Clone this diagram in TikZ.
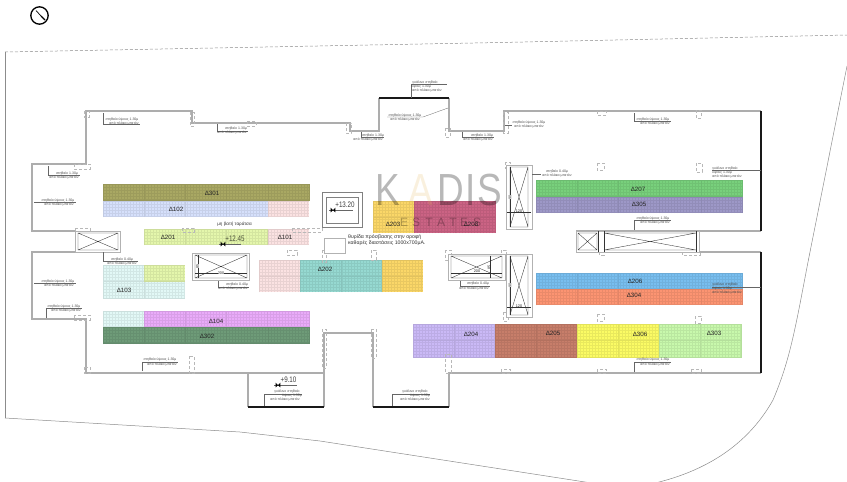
\documentclass[tikz,border=0pt]{standalone}
\usepackage{fontspec}
\setmainfont{Liberation Sans}
\usepackage{tikz}
\definecolor{cOlive}{HTML}{A9A863}
\definecolor{cBlue}{HTML}{D6E0FB}
\definecolor{cPink}{HTML}{FBE2E2}
\definecolor{cLime}{HTML}{E4F6AC}
\definecolor{cCyan}{HTML}{E2F8F6}
\definecolor{cMagenta}{HTML}{E9ABF9}
\definecolor{cForest}{HTML}{6E9B78}
\definecolor{cTeal}{HTML}{96D9D1}
\definecolor{cAmber}{HTML}{FBD768}
\definecolor{cRose}{HTML}{CB6384}
\definecolor{cGreen}{HTML}{78D07C}
\definecolor{cViolet}{HTML}{9D98C7}
\definecolor{cSky}{HTML}{78BEEF}
\definecolor{cCoral}{HTML}{FC9472}
\definecolor{cLilac}{HTML}{CAB9F6}
\definecolor{cBrick}{HTML}{C77E6A}
\definecolor{cLemon}{HTML}{FBFB64}
\definecolor{cMint}{HTML}{C8F8AC}
\tikzstyle{wall}=[draw=black!50, line width=.5pt, double=black!32, double distance=1.8pt, line join=miter]
\tikzstyle{glass}=[draw=black!90, line width=1.3pt]
\tikzstyle{plot}=[draw=black!45, line width=.5pt]
\tikzstyle{leader}=[draw=black!60, line width=.3pt]
\tikzstyle{column}=[draw=black!28, line width=.3pt, densely dashed]
\tikzstyle{frame}=[draw=black!30, line width=1pt, fill=white]
\tikzstyle{thin}=[draw=black!80, line width=.35pt]
\tikzstyle{lab}=[font=\fontsize{3.5}{4}\selectfont, text=black!70, inner sep=0pt]
\tikzstyle{dim}=[font=\fontsize{3.8}{4}\selectfont, text=black!85, inner sep=0pt]
\tikzstyle{room}=[font=\fontsize{6.2}{7}\selectfont, text=black!85, inner sep=0pt]
\tikzstyle{note}=[font=\fontsize{5.2}{6}\selectfont, text=black!80, inner sep=0pt]
\tikzstyle{level}=[font=\fontsize{8}{9}\selectfont, text=black!75, inner sep=0pt, xscale=.78]
\tikzstyle{wmark}=[font=\fontsize{45}{50}\selectfont, text=black, opacity=.28, inner sep=0pt, xscale=.82]
\newcommand{\ypsos}{στηθαίο ύψους 1.30μ}
\newcommand{\mikro}{στηθαίο 1.30μ}
\newcommand{\xamilo}{στηθαίο 0.40μ}
\newcommand{\plaka}{από πλάκα μπετόν}
\newcommand{\levelmark}[3]{
	\draw[leader] (#2-4,#3) -- ++(#1,0);
	\fill[black] (#2,#3) ++(-2.3,-2.3) -- ++(4.6,4.6) -- ++(0,-4.6) -- ++(-4.6,4.6) -- cycle;
}
\newcommand{\glasslab}[4]{
	\node at (#1,#4-4) [lab] {γυάλινο στηθαίο};
	\node at (#2,#4) [lab] {ύψους 1.30μ};
	\node at (#3,#4+4) [lab] {\plaka};
}

\begin{document}
\begin{tikzpicture}[x=1pt, y=-1pt]
	\useasboundingbox (0,0) rectangle (847,482);
	% north
	\draw[black, line width=1.3pt] (39.5,15.5) circle (8.7);
	\draw[black, line width=.7pt] (36,10.5) -- (41,16);
	\draw[black, line width=1.2pt] (41,16) -- (45,20);
	% plot
	\draw[plot, densely dashed] (5,52) -- (500,42.5) -- (847,35);
	\draw[plot] (5,52) -- (5,418);
	\draw[plot] (5,418) -- (240,432) -- (320,441) -- (598,484);
	\draw[plot] (847,66) -- (808,262) .. controls (795,330) and (790,360) .. (773,400) .. controls (755,432) and (720,470) .. (646,485);
	% panels
	\foreach \xa/\ya/\xb/\yb/\col in {
		103/184/309/201/cOlive, 103/201/268/217/cBlue, 268/201/309/217/cPink,
		144/229/268/245/cLime, 268/229/309/245/cPink,
		103/265/185/298/cCyan, 144/265/185/282/cLime,
		103/311/144/327/cCyan, 144/311/309/327/cMagenta, 103/327/309/344/cForest,
		259/260/300/292/cPink, 300/260/382/292/cTeal, 382/260/423/292/cAmber,
		373/201/414/233/cAmber, 414/201/496/233/cRose,
		536/180/742/197/cGreen, 536/197/742/213/cViolet,
		536/273/742/289/cSky, 536/289/742/305/cCoral,
		413/324/495/357/cLilac, 495/324/577/357/cBrick, 577/324/659/357/cLemon, 659/324/742/357/cMint} {
		\fill[\col] (\xa,\ya) rectangle (\xb,\yb);
		\pgfmathsetmacro{\wd}{\xb-\xa}
		\pgfmathsetmacro{\ht}{\yb-\ya}
		\begin{scope}[shift={(\xa,\ya)}]
			\draw[\col!93!black, line width=.1pt, step=3pt] (0,0) grid (\wd,\ht);
			\draw[\col!90!black, line width=.5pt, xstep=41.2pt, ystep=16.4pt] (0,0) grid (\wd,\ht);
		\end{scope}
	}
	% room names
	\foreach \nam/\xa/\ya in {
		301/212/193.5, 102/176/209.5, 201/168/237.5, 101/285/237.5, 103/124/290,
		104/216/321.5, 302/207/336.5, 202/325/269, 203/393/224, 208/471/224,
		207/638/189.5, 305/639/204.5, 206/635/281, 304/634/295.5,
		204/471/334, 205/553/333.5, 306/640/334, 303/714/333.5} {
		\node at (\xa,\ya) [room] (r\nam) {Δ\nam};
	}
	% walls
	\draw[wall] (75,231) -- (32,231) -- (32,164) -- (86,164) -- (86,111) -- (192,111) -- (192,123) -- (350,123) -- (350,131) -- (379,131) -- (379,98) (449,98) -- (449,131) -- (504,131) -- (504,111) -- (761,111);
	\draw[wall] (761,231) -- (576,231);
	\draw[wall] (700,252) -- (761,252);
	\draw[wall] (761,373) -- (449,373) -- (449,407);
	\draw[wall] (373,407) -- (373,333) -- (324,333) -- (324,373) -- (86,373) -- (86,319) -- (32,319) -- (32,252) -- (75,252);
	\draw[wall] (248,373) -- (248,407) (324,373) -- (324,407);
	\draw[glass] (379,98) -- (449,98);
	\draw[glass] (761,111) -- (761,231);
	\draw[glass] (761,252) -- (761,373);
	\draw[glass] (248,407) -- (324,407);
	\draw[glass] (373,407) -- (449,407);
	% columns
	\foreach \xa/\ya/\xb/\yb in {
		84/111/89/117, 190/112/194/126, 247/121/256/126, 74/164/90/169,
		75/228/90/232, 182/228/194/232, 292/228/322/232, 287/250/297/255,
		74/315/90/320, 84/367/90/373, 189/356/194/373, 322/250/326/262,
		371/250/376/260, 322/329/326/368, 371/329/376/358, 445/354/451/373,
		445/250/451/260, 501/250/506/260, 503/312/508/321, 501/369/510/373,
		346/123/351/133, 445/128/450/137, 503/112/508/133, 505/162/510/168,
		597/111/606/115, 696/110/701/118, 597/163/604/170, 696/163/702/172,
		599/252/604/255, 682/252/700/255, 597/314/604/321, 695/316/701/323,
		597/369/606/373, 691/369/701/373} {
		\draw[column] (\xa,\ya) rectangle (\xb,\yb);
	}
	% shafts
	\draw[frame] (75,231) rectangle (120,252);
	\draw[thin] (78,233) -- (118,250) (118,233) -- (78,250) (78,233) rectangle (118,250);
	\draw[frame] (192,253) rectangle (249,280);
	\draw[thin] (195,255) -- (247,278) (247,255) -- (195,278) (195,255) rectangle (247,278);
	\draw[thin] (195,273) -- (247,273) (198,255) -- (198,278);
	\node at (197.5,266) [dim, rotate=90, fill=white] (d85a) {85};
	\node at (221,273) [dim, fill=white] (d200a) {200};
	\draw[frame] (448,254) rectangle (505,280);
	\draw[thin] (451,256) -- (502,278) (502,256) -- (451,278) (451,256) rectangle (502,278);
	\draw[thin] (451,273) -- (502,273) (490,256) -- (490,278);
	\node at (489,267) [dim, rotate=90, fill=white] (d85b) {85};
	\node at (477,271.5) [dim, fill=white] (d200b) {200};
	\draw[frame] (506,165) rectangle (532,229);
	\draw[thin] (510,167) -- (528,227) (528,167) -- (510,227) (510,167) rectangle (528,227);
	\draw[thin] (507,212) -- (531,212) (510,167) -- (510,227);
	\node at (510,197) [dim, rotate=90, fill=white] (d90a) {90};
	\node at (519,211) [dim, fill=white] (d120a) {120};
	\draw[frame] (506,254) rectangle (532,317);
	\draw[thin] (510,256) -- (528,315) (528,256) -- (510,315) (510,256) rectangle (528,315);
	\draw[thin] (507,307) -- (531,307) (510,256) -- (510,315);
	\node at (510,285) [dim, rotate=90, fill=white] (d90b) {90};
	\node at (519,306) [dim, fill=white] (d120b) {120};
	\draw[frame] (576,231) rectangle (699,252);
	\draw[thin] (578,233) -- (597,250) (597,233) -- (578,250) (578,233) rectangle (597,250);
	\draw[thin] (598,231) -- (598,252) (604,231) -- (604,252) (696,231) -- (696,252);
	\draw[thin] (604,233) -- (696,250) (604,250) -- (696,233) (604,233) -- (696,233) (604,250) -- (696,250);
	% hatches
	\draw[black!50, line width=.6pt] (322,192) rectangle (362,227);
	\draw[black!50, line width=.6pt] (326,197) rectangle (358,223);
	\draw[frame, line width=.9pt] (324,238) rectangle (345,253);
	% levels
	\levelmark{24}{333}{210}
	\node at (345,205) [level] (top) {+13.20};
	\levelmark{22}{223}{244}
	\node at (235,239) [level, text=black!45!cLime!60!black] (terrace) {+12.45};
	\levelmark{23}{278}{385}
	\node at (288.5,380) [level] (low) {+9.10};
	% notes
	\node at (234.5,224.5) [note, font=\fontsize{4.6}{5}\selectfont] (roof) {μη βατή ταράτσα};
	\node at (348,237) [note, anchor=west] (hatcha) {θυρίδα πρόσβασης στην οροφή};
	\node at (348,243) [note, anchor=west] (hatchb) {καθαρές διαστάσεις 1000x700μΑ.};
	% parapets
	\foreach \xa/\ya/\xb/\yb/\xc/\yc/\xd/\yd/\txt in {
		103.5/113/103.5/124/122/120/124/124/\ypsos,
		217/124/217/131/236/128.5/232/132.5/\mikro,
		48/166/48/175/67/174/64/178/\mikro,
		103.5/252/103.5/261/122/259.5/122/264/\xamilo,
		46/318/46/308/64/306.5/66/310.5/\ypsos,
		142/371/142/362/160/360/162/364.5/\ypsos,
		218/281/218/287/237/285/233/289/\xamilo,
		361/132/361/137/373/136/368/140/\mikro,
		462/132/462/137/482/136/478/140/\mikro,
		634/113/634/121/653/120/655/124/\ypsos,
		634/230/634/220/653/219/655/223/\ypsos,
		634/372/634/362/653/360/655/364.5/\ypsos,
		460/281/460/286/478/284/474/289/\xamilo} {
		\draw[leader] (\xa,\ya) -- (\xb,\yb) -- (\xd+16,\yb);
		\node at (\xc,\yc-.4) [lab] {\txt};
		\node at (\xd,\yd) [lab] {\plaka};
	}
	\foreach \xa/\ya/\xb/\xc/\yc/\xd/\yd/\txt in {
		34/202/76/58/200.5/59/205/\ypsos,
		34/283/76/58/281.5/59/286/\ypsos,
		505/125/512/529/123/529/127/\ypsos,
		532/174/541/557/172/557/176/\xamilo} {
		\draw[leader] (\xa,\ya) -- (\xb,\ya);
		\node at (\xc,\yc) [lab] {\txt};
		\node at (\xd,\yd) [lab] {\plaka};
	}
	\draw[leader] (448,108) -- (423,117) -- (387,117);
	\node at (405,115.5) [lab] (glazea) {\ypsos};
	\node at (405,120) [lab] (glazeb) {\plaka};
	\draw[leader] (411,98) -- (411,84) -- (447,84);
	\glasslab{425}{421}{427}{87}
	\draw[leader] (264.5,406) -- (264.5,394) -- (302,394);
	\glasslab{287}{292}{285}{396}
	\draw[leader] (392,406) -- (392,394) -- (430,394);
	\glasslab{415}{420}{415}{396}
	\draw[leader] (761,170) -- (712,170);
	\glasslab{725}{722}{727}{173}
	\draw[leader] (761,287) -- (712,287);
	\glasslab{725}{722}{727}{289}
	% watermark
	\foreach \ltr/\xa in {K/388, D/451, I/471, S/490} {
		\node at (\xa,190) [wmark] (w\ltr) {\ltr};
	}
	\node at (421,190) [wmark, text=cAmber!60!brown, opacity=.2] (wA) {A};
	\foreach \ltr/\xa in {E/404, S/416, T/429, A/441, T/453, E/464, S/477} {
		\node at (\xa,222) [font=\fontsize{12}{14}\selectfont, text=black, opacity=.28, inner sep=0pt] {\ltr};
	}
\end{tikzpicture}
\end{document}
